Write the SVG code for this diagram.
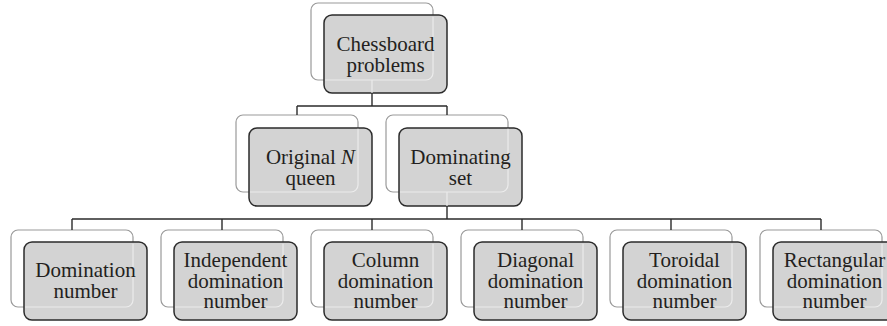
<svg xmlns="http://www.w3.org/2000/svg" xmlns:xlink="http://www.w3.org/1999/xlink" width="887" height="326" viewBox="0 0 887 326">
<style>
.back{fill:#fff;stroke:#9a9a9a;stroke-width:1.2}
.front{fill:#d3d3d3;stroke:#2b2b2b;stroke-width:1.5}
.ghost{fill:none;stroke:#ececec;stroke-width:1.2}
.t{font-family:"Liberation Serif","Times New Roman",serif;font-size:21px;fill:#231f20;text-anchor:middle}
.c{fill:none;stroke:#2b2b2b;stroke-width:1.4}
.cl{fill:none;stroke:#ececec;stroke-width:1.2}
</style>
<defs>
<clipPath id="inner" clipPathUnits="objectBoundingBox"><rect x="0.115" y="0.18" width="1.5" height="1.5"/></clipPath>
</defs>
<rect width="887" height="326" fill="#fff"/>
<g id="n0">
<rect class="back" x="311" y="3" width="122" height="77" rx="7"/>
<rect class="front" x="324" y="15" width="123" height="78" rx="8"/>
<rect class="ghost" x="311" y="3" width="122" height="77" rx="7" clip-path="url(#inner)"/>
<text class="t" x="385.5" y="51">Chessboard</text>
<text class="t" x="385.5" y="72">problems</text>
</g>
<g id="n1">
<rect class="back" x="236" y="115" width="122" height="77" rx="7"/>
<rect class="front" x="249" y="128" width="123" height="78" rx="8"/>
<rect class="ghost" x="236" y="115" width="122" height="77" rx="7" clip-path="url(#inner)"/>
<text class="t" x="310.5" y="164">Original <tspan font-style="italic">N</tspan></text>
<text class="t" x="310.5" y="185">queen</text>
</g>
<g id="n2">
<rect class="back" x="386" y="115" width="122" height="77" rx="7"/>
<rect class="front" x="399" y="128" width="123" height="78" rx="8"/>
<rect class="ghost" x="386" y="115" width="122" height="77" rx="7" clip-path="url(#inner)"/>
<text class="t" x="460.5" y="164">Dominating</text>
<text class="t" x="460.5" y="185">set</text>
</g>
<g id="n3">
<rect class="back" x="11" y="230" width="122" height="77" rx="7"/>
<rect class="front" x="24" y="242" width="123" height="78" rx="8"/>
<rect class="ghost" x="11" y="230" width="122" height="77" rx="7" clip-path="url(#inner)"/>
<text class="t" x="85.5" y="277">Domination</text>
<text class="t" x="85.5" y="298">number</text>
</g>
<g id="n4">
<rect class="back" x="161" y="230" width="122" height="77" rx="7"/>
<rect class="front" x="174" y="242" width="123" height="78" rx="8"/>
<rect class="ghost" x="161" y="230" width="122" height="77" rx="7" clip-path="url(#inner)"/>
<text class="t" x="235.5" y="267">Independent</text>
<text class="t" x="235.5" y="287.5">domination</text>
<text class="t" x="235.5" y="308">number</text>
</g>
<g id="n5">
<rect class="back" x="311" y="230" width="122" height="77" rx="7"/>
<rect class="front" x="324" y="242" width="123" height="78" rx="8"/>
<rect class="ghost" x="311" y="230" width="122" height="77" rx="7" clip-path="url(#inner)"/>
<text class="t" x="385.5" y="267">Column</text>
<text class="t" x="385.5" y="287.5">domination</text>
<text class="t" x="385.5" y="308">number</text>
</g>
<g id="n6">
<rect class="back" x="461" y="230" width="122" height="77" rx="7"/>
<rect class="front" x="474" y="242" width="123" height="78" rx="8"/>
<rect class="ghost" x="461" y="230" width="122" height="77" rx="7" clip-path="url(#inner)"/>
<text class="t" x="535.5" y="267">Diagonal</text>
<text class="t" x="535.5" y="287.5">domination</text>
<text class="t" x="535.5" y="308">number</text>
</g>
<g id="n7">
<rect class="back" x="610" y="230" width="122" height="77" rx="7"/>
<rect class="front" x="623" y="242" width="123" height="78" rx="8"/>
<rect class="ghost" x="610" y="230" width="122" height="77" rx="7" clip-path="url(#inner)"/>
<text class="t" x="684.5" y="267">Toroidal</text>
<text class="t" x="684.5" y="287.5">domination</text>
<text class="t" x="684.5" y="308">number</text>
</g>
<g id="n8">
<rect class="back" x="760" y="230" width="122" height="77" rx="7"/>
<rect class="front" x="773" y="242" width="123" height="78" rx="8"/>
<rect class="ghost" x="760" y="230" width="122" height="77" rx="7" clip-path="url(#inner)"/>
<text class="t" x="834.5" y="267">Rectangular</text>
<text class="t" x="834.5" y="287.5">domination</text>
<text class="t" x="834.5" y="308">number</text>
</g>
<g id="connectors">
<path class="cl" d="M372,80V93M447,192V206"/>
<path class="c" d="M372,93V106M297,106H447M297,106V115M447,106V115M447,206V219M72,219H821M72,219V230M222,219V230M372,219V230M522,219V230M671,219V230M821,219V230"/>
</g>
</svg>
